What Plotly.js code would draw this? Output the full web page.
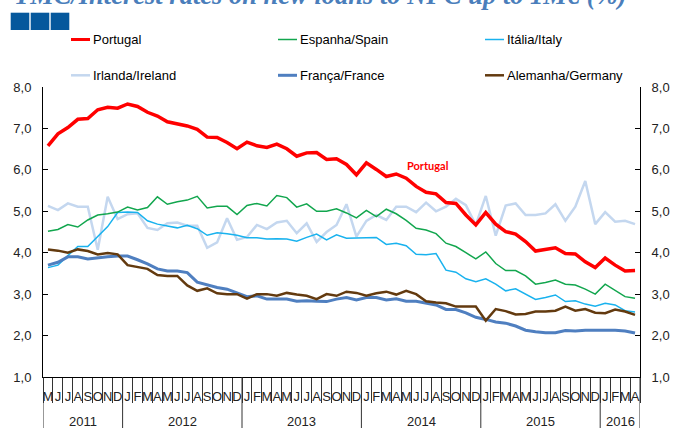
<!DOCTYPE html>
<html><head><meta charset="utf-8">
<script src="https://cdn.plot.ly/plotly-3.0.1.min.js"></script>
<style>html,body{margin:0;padding:0;background:#fff}#chart{width:674px;height:441px}</style>
</head><body><div id="chart"></div>
<script>
// ---- categories ----
const years = ['2011','2012','2013','2014','2015','2016'];
const monthsInYear = [8, 12, 12, 12, 12, 4];
const firstMonthOfYear = [4, 0, 0, 0, 0, 0];
const monthLetters = ['J','F','M','A','M','J','J','A','S','O','N','D'];

// ---- series values (May 2011 - Apr 2016) ----
const portugal = [6.58,6.87,7.02,7.22,7.24,7.45,7.51,7.49,7.59,7.53,
  7.39,7.30,7.16,7.12,7.06,6.98,6.79,6.78,6.66,6.51,
  6.67,6.58,6.54,6.62,6.51,6.33,6.41,6.42,6.25,6.27,
  6.13,5.88,6.17,6.01,5.84,5.90,5.80,5.60,5.46,5.42,
  5.21,5.19,4.91,4.67,4.97,4.69,4.51,4.45,4.27,4.04,
  4.07,4.12,3.98,3.97,3.78,3.64,3.87,3.70,3.56,3.57];
const spain = [4.52,4.56,4.68,4.62,4.79,4.91,4.94,4.98,5.10,5.03,
  5.09,5.35,5.17,5.23,5.27,5.36,5.08,5.12,5.12,4.92,
  5.14,5.19,5.13,5.38,5.33,5.10,5.18,5.00,5.00,5.06,
  4.96,4.84,5.02,4.87,5.05,4.94,4.78,4.59,4.55,4.46,
  4.23,4.15,4.00,3.85,4.02,3.74,3.57,3.57,3.44,3.24,
  3.28,3.34,3.24,3.22,3.12,3.00,3.24,3.08,2.94,2.90];
const italy = [3.64,3.70,3.93,4.15,4.15,4.39,4.63,4.97,4.98,4.97,
  4.77,4.69,4.65,4.60,4.66,4.58,4.42,4.48,4.46,4.42,
  4.36,4.36,4.33,4.34,4.33,4.28,4.37,4.45,4.31,4.43,
  4.35,4.35,4.36,4.37,4.20,4.23,4.17,3.96,3.95,3.98,
  3.58,3.53,3.37,3.30,3.37,3.24,3.08,3.13,3.00,2.87,
  2.92,2.98,2.82,2.84,2.76,2.71,2.78,2.74,2.60,2.57];
const ireland = [5.13,5.03,5.19,5.11,5.11,4.07,5.35,4.81,4.93,4.95,
  4.60,4.55,4.71,4.73,4.65,4.65,4.12,4.25,4.83,4.31,
  4.38,4.67,4.57,4.73,4.77,4.47,4.71,4.26,4.50,4.67,
  5.17,4.39,4.77,4.91,4.79,5.11,5.11,4.98,5.21,5.00,
  5.11,5.30,5.15,4.67,5.37,4.41,5.14,5.19,4.91,4.91,
  4.95,5.17,4.77,5.11,5.73,4.69,4.98,4.75,4.77,4.69];
const france = [3.70,3.77,3.90,3.90,3.85,3.88,3.90,3.92,3.92,3.83,
  3.73,3.61,3.56,3.56,3.52,3.29,3.23,3.16,3.12,3.03,
  2.94,2.96,2.88,2.88,2.88,2.83,2.84,2.83,2.82,2.88,
  2.92,2.86,2.92,2.92,2.86,2.89,2.83,2.83,2.79,2.74,
  2.63,2.63,2.55,2.44,2.39,2.33,2.30,2.23,2.13,2.09,
  2.07,2.07,2.12,2.11,2.13,2.13,2.14,2.13,2.11,2.06];
const germany = [4.08,4.05,4.00,4.08,4.04,3.96,3.99,3.96,3.70,3.66,
  3.61,3.46,3.44,3.44,3.21,3.08,3.14,3.02,3.00,3.00,
  2.89,3.00,3.00,2.96,3.03,2.99,2.96,2.88,3.00,2.96,
  3.06,3.03,2.96,3.02,3.06,2.99,3.08,3.00,2.83,2.80,
  2.78,2.70,2.70,2.70,2.36,2.64,2.59,2.51,2.52,2.58,
  2.58,2.60,2.70,2.60,2.64,2.55,2.54,2.63,2.58,2.50];

const seriesNames = ['Portugal','Espanha/Spain','Itália/Italy','Irlanda/Ireland','França/France','Alemanha/Germany'];
const titleText = 'TMC/Interest rates on new loans to NFC up to 1M€ (%)';
const annotText = 'Portugal';

// ---- build month positions / labels ----
const monthPos = [], monthLabels = [], yearStart = [];
years.forEach((yr, k) => {
  yearStart.push(monthPos.length);
  for (let j = 0; j < monthsInYear[k]; j++) {
    monthPos.push(monthPos.length);
    monthLabels.push(monthLetters[firstMonthOfYear[k] + j]);
  }
});
const nMonths = monthPos.length;

const styles = [
  {color:'#ff0000', width:3.5},
  {color:'#12a64e', width:1.5},
  {color:'#19b2ee', width:1.5},
  {color:'#c4d7ef', width:2.5},
  {color:'#4f7fc0', width:3},
  {color:'#633a0f', width:2.5}
];
const values = [portugal, spain, italy, ireland, france, germany];
const drawOrder = [3, 2, 1, 4, 5, 0];

const traces = drawOrder.map(i => ({
  type:'scatter', mode:'lines', name:seriesNames[i],
  x:monthPos, y:values[i],
  yaxis: i === 0 ? 'y2' : 'y',
  line:{color:styles[i].color, width:styles[i].width},
  hoverinfo:'skip', showlegend:false
}));

// ---- geometry helpers (layout only) ----
const W = 674, H = 441, M = {l:43, r:34, t:87, b:64};
const pw = W - M.l - M.r, ph = H - M.t - M.b;
const px = p => (p - M.l) / pw;
const py = p => (H - M.b - p) / ph;

const FONT = 'Liberation Sans, Arial, sans-serif';
const shapes = [], annotations = [];

// legend (2 rows x 3 columns)
const legCols = [71, 278, 485], legRows = [39.5, 75.3];
seriesNames.forEach((nm, i) => {
  const cx = legCols[i % 3], cy = legRows[Math.floor(i / 3)];
  shapes.push({type:'line', xref:'paper', yref:'paper', x0:px(cx), x1:px(cx + 19), y0:py(cy), y1:py(cy),
    line:{color:styles[i].color, width:Math.min(styles[i].width, 3)}});
  annotations.push({xref:'paper', yref:'paper', x:px(cx + 20), y:py(cy), xanchor:'left', yanchor:'middle',
    text:nm, showarrow:false, font:{family:FONT, size:13, color:'#000'}});
});

// year group labels and dividers
years.forEach((yr, k) => {
  const s = yearStart[k], n = monthsInYear[k];
  annotations.push({xref:'x', yref:'paper', x:s - 0.5 + n / 2, y:py(421.5), xanchor:'center', yanchor:'middle',
    text:yr, showarrow:false, font:{family:FONT, size:13, color:'#222'}});
  shapes.push({type:'line', xref:'x', yref:'paper', x0:s - 0.5, x1:s - 0.5, y0:0, y1:py(428),
    line:{color:'#333', width:1}});
});
shapes.push({type:'line', xref:'x', yref:'paper', x0:nMonths - 0.5, x1:nMonths - 0.5, y0:0, y1:py(428),
  line:{color:'#333', width:1}});

// three header squares
[[10.7,29.3],[30.7,49.3],[50.7,69.3]].forEach(([a,b]) => {
  shapes.push({type:'rect', xref:'paper', yref:'paper', x0:px(a), x1:px(b), y0:py(30), y1:py(12.7),
    fillcolor:'#05589c', line:{width:0}});
});

// title (mostly cut off at top, as in the original)
annotations.push({xref:'paper', yref:'paper', x:px(12), y:py(12.5), xanchor:'left', yanchor:'bottom',
  text:'<b><i>' + titleText + '</i></b>', showarrow:false,
  font:{family:'Liberation Serif, Times New Roman, serif', size:26.5, color:'#4a7ebb'}});

// in-plot label
annotations.push({xref:'paper', yref:'paper', x:px(428), y:py(165), xanchor:'center', yanchor:'middle',
  text:'<b>' + annotText + '</b>', showarrow:false, font:{family:'Lato, Open Sans, sans-serif', size:11, color:'#ff0000'}});

const yCommon = {range:[1,8], dtick:1, tick0:1, tickformat:'.1f', ticks:'inside', ticklen:5, tickcolor:'#000',
  showline:true, linecolor:'#000', linewidth:1, showgrid:false, zeroline:false, fixedrange:true,
  tickfont:{family:FONT, size:13, color:'#222'}, ticklabelstandoff:8};

const layout = {
  width:W, height:H, margin:M, paper_bgcolor:'#fff', plot_bgcolor:'#fff',
  separators:', ', showlegend:false, hovermode:false,
  xaxis:{type:'linear', range:[-0.5, nMonths - 0.5], tickmode:'array', tickvals:monthPos, ticktext:monthLabels,
    tickangle:0, showline:true, linecolor:'#000', linewidth:1, ticks:'', showgrid:false, zeroline:false,
    minor:{tickmode:'linear', tick0:-0.5, dtick:1, ticks:'outside', ticklen:25, tickcolor:'#333', tickwidth:1, showgrid:false},
    ticklabelstandoff:7, tickfont:{family:FONT, size:13, color:'#222'}, fixedrange:true},
  yaxis:Object.assign({}, yCommon, {side:'left'}),
  yaxis2:Object.assign({}, yCommon, {side:'right', overlaying:'y'}),
  shapes:shapes, annotations:annotations
};

Plotly.newPlot('chart', traces, layout, {displayModeBar:false, staticPlot:true});
</script>
</body></html>
